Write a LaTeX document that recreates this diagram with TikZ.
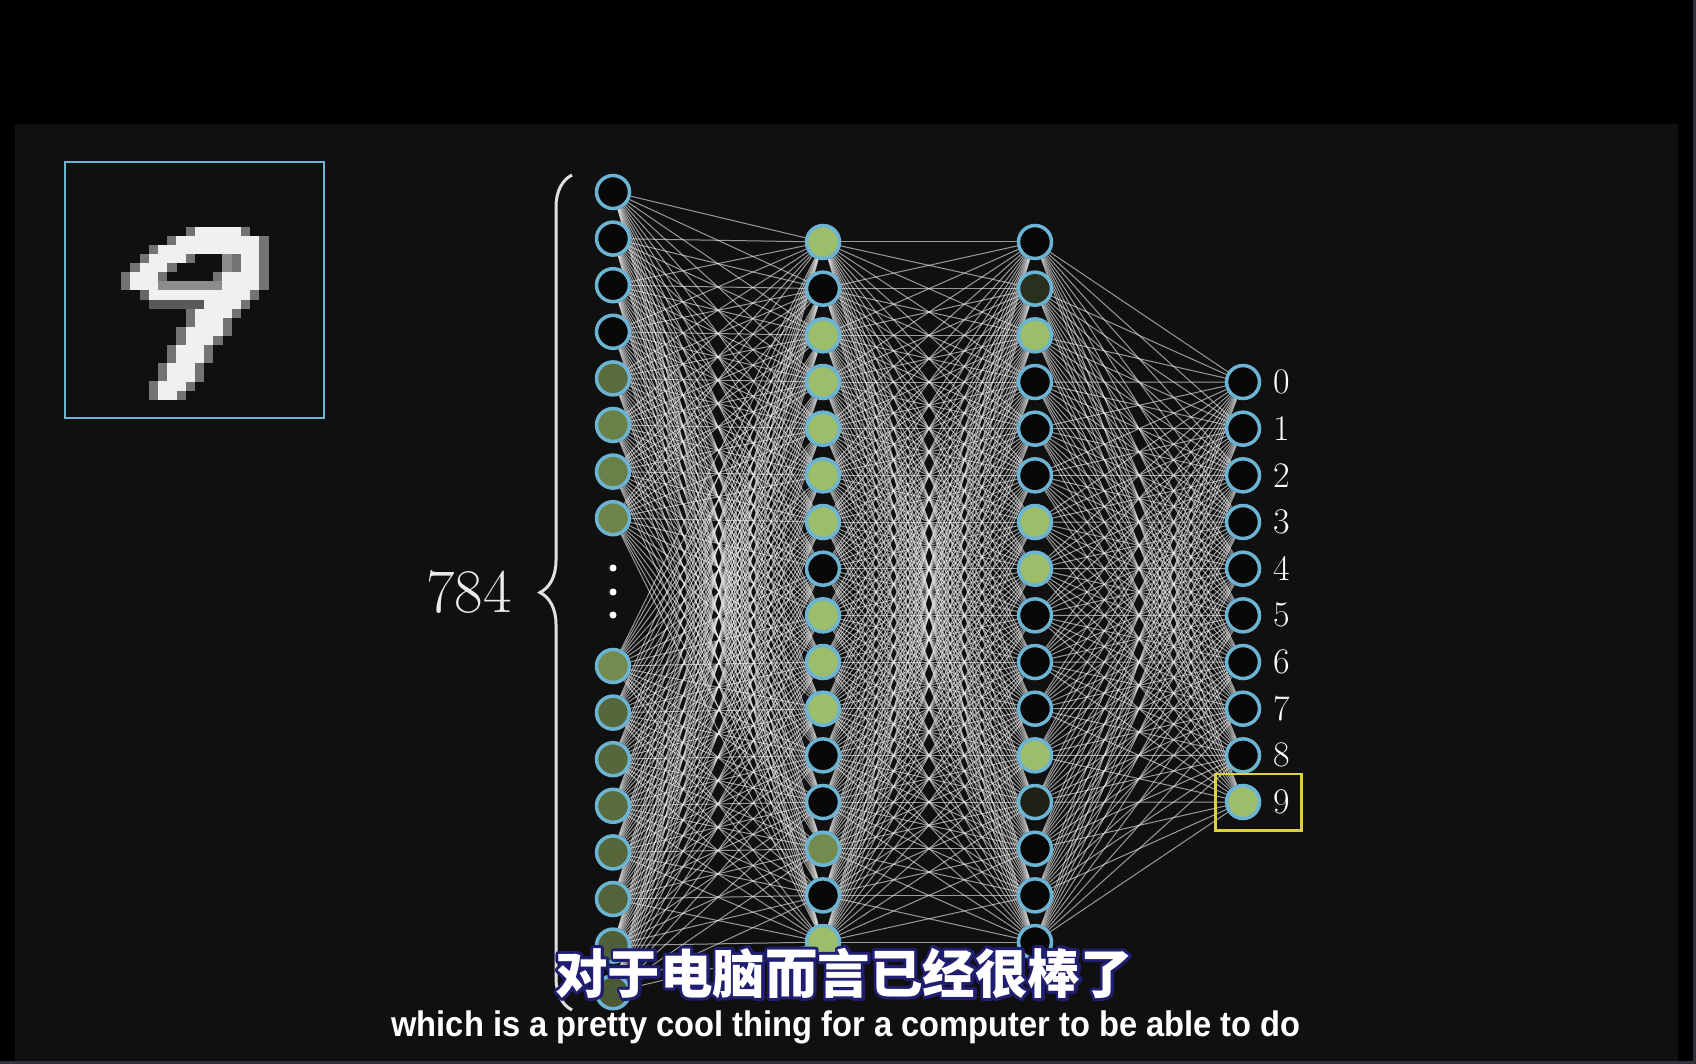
\documentclass[tikz,border=0pt]{standalone}
\usepackage{fontspec}
\usepackage{xcolor}
\usepackage{tikz}
\usetikzlibrary{positioning, fit, decorations.pathreplacing}
\newfontfamily\cjk{Noto Sans CJK SC}
\newfontfamily\subfont{Liberation Sans}
\definecolor{panelbg}{RGB}{16,16,16}
\definecolor{stripgray}{RGB}{48,52,58}
\definecolor{ringblue}{RGB}{108,180,212}
\definecolor{actgreen}{RGB}{156,190,106}
\definecolor{offfill}{RGB}{8,8,8}
\definecolor{hiyellow}{RGB}{222,206,66}
\definecolor{subnavy}{RGB}{32,30,112}
\newcommand\strokedtext[1]{{\special{pdf:literal direct 2 Tr 6 w 1 j}#1\special{pdf:literal direct 0 Tr}}}
\pgfdeclarelayer{backdrop}
\pgfdeclarelayer{wires}
\pgfsetlayers{backdrop,wires,main}
\tikzset{
  neuron/.style={circle, draw=ringblue, line width=3.5pt, minimum size=33pt, inner sep=0pt, fill=actgreen!#1!offfill},
  neuron/.default=0,
}

\begin{document}
\begin{tikzpicture}[
    x=1pt, y=-1pt,
    wire/.style={white!88!gray, line width=1pt, opacity=0.62},
    outlabel/.style={text=white, font=\fontsize{36}{36}\selectfont, inner sep=0pt},
  ]
  \useasboundingbox (0,0) rectangle (1696,1064);
  \begin{pgfonlayer}{backdrop}
    \fill[black] (0,0) rectangle (1696,1064);
    \fill[panelbg] (15,124) rectangle (1678,1061);
    \fill[stripgray] (1693,0) rectangle (1696,1064);
    \fill[stripgray] (0,1061) rectangle (1696,1064);
  \end{pgfonlayer}

  % the input picture, pixel by pixel
  \foreach \r/\a/\b in {7/14/18, 8/12/20, 9/10/20, 10/9/12, 10/19/20, 11/8/10, 11/19/20,
      12/7/9, 12/17/20, 13/7/9, 13/17/20, 14/9/19, 15/15/18, 16/14/17, 17/14/16,
      18/13/16, 19/13/15, 20/12/14, 21/12/14, 22/11/13, 23/11/13, 24/10/12, 25/10/11} {
    \fill[white!45!black] ({66+9.2*(\a-1)},{163+9.1*\r}) rectangle ++(9.3,9.2);
    \fill[white!45!black] ({66+9.2*(\b+1)},{163+9.1*\r}) rectangle ++(9.3,9.2);
  }
  \foreach \r/\a/\b/\v in {13/10/16/55, 15/9/14/35, 10/17/17/55, 11/17/17/55, 14/8/8/40}
    \foreach \c in {\a,...,\b}
      \fill[white!\v!black] ({66+9.2*\c},{163+9.1*\r}) rectangle ++(9.3,9.2);
  \foreach \r/\a/\b in {7/14/18, 8/12/20, 9/10/20, 10/9/12, 10/19/20, 11/8/10, 11/19/20,
      12/7/9, 12/17/20, 13/7/9, 13/17/20, 14/9/19, 15/15/18, 16/14/17, 17/14/16,
      18/13/16, 19/13/15, 20/12/14, 21/12/14, 22/11/13, 23/11/13, 24/10/12, 25/10/11}
    \foreach \c in {\a,...,\b}
      \fill[white!94!black] ({66+9.2*\c},{163+9.1*\r}) rectangle ++(9.3,9.2);
  \node[draw=ringblue, line width=2.5pt, minimum width=259pt, minimum height=256pt, inner sep=0pt] (mnist) at (194.5,290) {};

  % input layer
  \foreach \lv [count=\i] in {0,0,0,0,55,66,66,68,72,52,52,55,52,50,48,45} {
    \pgfmathsetmacro{\ypos}{\i<9 ? 192+46.6*(\i-1) : 666+46.6*(\i-9)}
    \node[neuron=\lv] (in\i) at (613,\ypos) {};
  }
  \foreach \d/\yd in {1/568, 2/592, 3/615}
    \node[circle, fill=white, inner sep=2.5pt] (vdot\d) at (613,\yd) {};

  % hidden layers
  \foreach \lv [count=\j] in {100,0,100,100,100,100,100,0,100,100,100,0,0,72,0,100}
    \node[neuron=\lv] (ha\j) at (823,{242+46.67*(\j-1)}) {};
  \foreach \lv [count=\j] in {0,22,100,0,0,0,100,100,0,0,0,100,14,0,0,0}
    \node[neuron=\lv] (hb\j) at (1035,{242+46.67*(\j-1)}) {};

  % output layer
  \foreach \k in {0,...,8}
    \node[neuron] (out\k) at (1243,{382+46.67*\k}) {};
  \node[neuron=100] (out9) at (1243,802) {};
  \foreach \k in {0,...,9}
    \node[outlabel, right=12pt of out\k] (lab\k) {\k};
  \node[draw=hiyellow, line width=2.5pt, fit=(out9)(lab9), inner xsep=10.5pt, inner ysep=10pt, xshift=1pt] (pick) {};

  \begin{pgfonlayer}{wires}
    \foreach \i in {1,...,16}
      \foreach \j in {1,...,16} {
        \draw[wire] (in\i) -- (ha\j);
        \draw[wire] (ha\i) -- (hb\j);
      }
    \foreach \i in {1,...,16}
      \foreach \k in {0,...,9}
        \draw[wire] (hb\i) -- (out\k);
  \end{pgfonlayer}

  % brace and count
  \draw[decorate, decoration={brace, amplitude=32pt, mirror}, draw=white!88!black, line width=3pt] (572,175) -- (572,1010);
  \coordinate (bracetip) at (540,592);
  \node[left=28pt of bracetip, inner sep=0pt, text=white!92!black, font=\fontsize{62}{62}\selectfont] (count) {784};

  % subtitles
  \node[text=subnavy, inner sep=0pt, font=\cjk\bfseries\fontsize{52.5}{52.5}\selectfont] (subzhline) at (844,973) {\strokedtext{对于电脑而言已经很棒了}};
  \node[text=white, inner sep=0pt, font=\cjk\bfseries\fontsize{52.5}{52.5}\selectfont] (subzh) at (subzhline) {对于电脑而言已经很棒了};
  \node[text=white, inner sep=0pt, font=\subfont\bfseries\fontsize{35.5}{35.5}\selectfont] (suben) at (846,1027) {\scalebox{0.92}[1]{which is a pretty cool thing for a computer to be able to do}};
\end{tikzpicture}
\end{document}
